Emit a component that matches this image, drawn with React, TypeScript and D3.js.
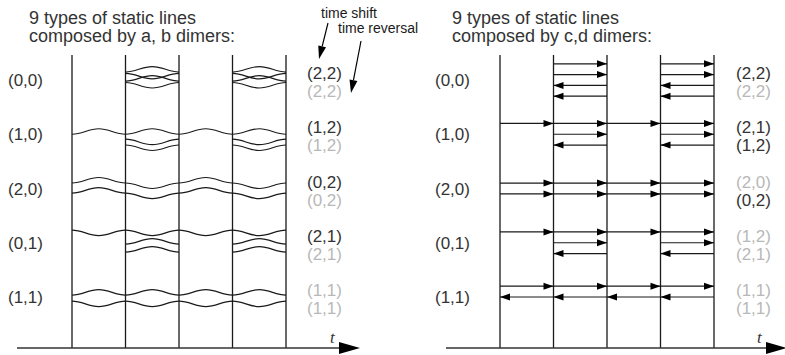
import React from 'react';
import * as d3 from 'd3';

// rows of both panels
const rowLabels = ['(0,0)', '(1,0)', '(2,0)', '(0,1)', '(1,1)'];

// labels on the right of each panel (upper, lower) and their shade
const abLabels = [['(2,2)', '(2,2)'], ['(1,2)', '(1,2)'], ['(0,2)', '(0,2)'], ['(2,1)', '(2,1)'], ['(1,1)', '(1,1)']];
const abShade = [['dark', 'light'], ['dark', 'light'], ['dark', 'light'], ['dark', 'light'], ['light', 'light']];
const cdLabels = [['(2,2)', '(2,2)'], ['(2,1)', '(1,2)'], ['(2,0)', '(0,2)'], ['(1,2)', '(2,1)'], ['(1,1)', '(1,1)']];
const cdShade = [['dark', 'light'], ['dark', 'dark'], ['light', 'dark'], ['light', 'light'], ['light', 'light']];

// a,b dimers: [level, per-column bend] u = arch up, d = arch down, . = none
const abStrands: [number, string][][] = [
  [[-1.45, '.u.u'], [-1.2, '.d.d'], [0.2, '.u.u'], [0.45, '.d.d']],
  [[0, 'uuuu'], [0.9, '.d.d'], [1.95, '.d.d']],
  [[-1, 'udud'], [0.85, 'udud']],
  [[-2.3, 'dddd'], [0.25, '.u.u'], [1.7, '.u.u']],
  [[-0.35, 'uuuu'], [0.75, 'dddd']],
];

// c,d dimers: [level, per-column direction] r = right, l = left, . = none
const cdStrands: [number, string][][] = [
  [[-1.5, '.r.r'], [-0.5, '.r.r'], [0.5, '.l.l'], [1.5, '.l.l']],
  [[-1, 'rrrr'], [0, '.r.r'], [1, '.l.l']],
  [[-0.5, 'rrrr'], [0.5, 'rrrr']],
  [[-1, 'rrrr'], [0, '.r.r'], [1, '.l.l']],
  [[-1, 'rrrr'], [0, 'llll']],
];

const ticks = [0, 1, 2, 3, 4];

const FONT = '"Liberation Sans", Arial, Helvetica, sans-serif';
const INK = '#1a1a1a';
const DARK = '#333';
const LIGHT = '#b8b8b8';

const W = 785;
const H = 355;
const axisY = 348;
const lineTop = 55;

const yRow = d3.scalePoint<string>().domain(rowLabels).range([80, 297]);
const waveUnit = d3.scaleLinear().domain([0, 1]).range([0, 5.5]);
const arrowUnit = d3.scaleLinear().domain([0, 1]).range([0, 10.8]);

function wavePath(x0: number, x1: number, y: number, bend: number) {
  const p = d3.path();
  const w = x1 - x0;
  const xm = (x0 + x1) / 2;
  const yp = y - bend * waveUnit(1);
  p.moveTo(x0, y);
  p.bezierCurveTo(x0 + w * 0.2, y, xm - w * 0.2, yp, xm, yp);
  p.bezierCurveTo(xm + w * 0.2, yp, x1 - w * 0.2, y, x1, y);
  return p.toString();
}

function head(tipX: number, y: number, dir: number, len = 10, half = 3.5) {
  const p = d3.path();
  p.moveTo(tipX, y);
  p.lineTo(tipX - dir * len, y - half);
  p.lineTo(tipX - dir * len, y + half);
  p.closePath();
  return p.toString();
}

function Axis({x0, x1}: {x0: number; x1: number}) {
  const p = d3.path();
  p.moveTo(x1, axisY);
  p.lineTo(x1 - 21, axisY - 6);
  p.lineTo(x1 - 21, axisY + 6);
  p.closePath();
  return (
    <g>
      <line x1={x0} x2={x1 - 18} y1={axisY} y2={axisY} stroke={DARK} strokeWidth={1.6} />
      <path d={p.toString()} fill="#000" />
      <text
        x={x1 - 30}
        y={axisY - 5}
        fontFamily='"Liberation Serif", "Times New Roman", serif'
        fontStyle="italic"
        fontSize={17}
        fill={DARK}
      >
        t
      </text>
    </g>
  );
}

function Labels({left, right, names, shades}: {left: number; right: number; names: string[][]; shades: string[][]}) {
  return (
    <g fontFamily={FONT} fontSize={17}>
      {rowLabels.map((r, i) => (
        <g key={r}>
          <text x={left} y={yRow(r)! + 6} fill={DARK}>
            {r}
          </text>
          {names[i].map((n, j) => (
            <text key={j} x={right} y={yRow(r)! + (j === 0 ? -7 : 11) + 6} fill={shades[i][j] === 'dark' ? DARK : LIGHT}>
              {n}
            </text>
          ))}
        </g>
      ))}
    </g>
  );
}

function Title({x, line2}: {x: number; line2: string}) {
  return (
    <text x={x} fontFamily={FONT} fontSize={18} fill={DARK}>
      <tspan x={x} y={24}>
        9 types of static lines
      </tspan>
      <tspan x={x} y={42}>
        {line2}
      </tspan>
    </text>
  );
}

function Arrow({x1, y1, x2, y2}: {x1: number; y1: number; x2: number; y2: number}) {
  const ang = Math.atan2(y2 - y1, x2 - x1);
  const len = 13;
  const half = 4;
  const bx = x2 - len * Math.cos(ang);
  const by = y2 - len * Math.sin(ang);
  const nx = -Math.sin(ang) * half;
  const ny = Math.cos(ang) * half;
  return (
    <g>
      <line x1={x1} y1={y1} x2={bx} y2={by} stroke="#000" strokeWidth={1.2} />
      <path d={`M${x2},${y2}L${bx + nx},${by + ny}L${bx - nx},${by - ny}Z`} fill="#000" />
    </g>
  );
}

export default function App() {
  const xAB = d3.scalePoint<number>().domain(ticks).range([72, 286]);
  const xCD = d3.scalePoint<number>().domain(ticks).range([500, 714]);

  return (
    <svg width={W} height={H} style={{position: 'absolute', left: 0, top: 0, background: '#fff'}}>
      <Title x={29} line2="composed by a, b dimers:" />
      <Title x={452} line2="composed by c,d dimers:" />

      <text x={321} y={18} fontFamily={FONT} fontSize={14} fill={INK}>
        time shift
      </text>
      <text x={338} y={33} fontFamily={FONT} fontSize={14} fill={INK}>
        time reversal
      </text>
      <Arrow x1={328} y1={23} x2={319} y2={59} />
      <Arrow x1={361} y1={41} x2={351} y2={93} />

      {/* a,b panel */}
      {ticks.map(t => (
        <line key={t} x1={xAB(t)} x2={xAB(t)} y1={lineTop} y2={axisY} stroke={INK} strokeWidth={1.3} />
      ))}
      {abStrands.map((row, i) =>
        row.map(([lv, bends], k) =>
          bends.split('').map((b, c) =>
            b === '.' ? null : (
              <path
                key={`${i}-${k}-${c}`}
                d={wavePath(xAB(c)!, xAB(c + 1)!, yRow(rowLabels[i])! + waveUnit(lv), b === 'u' ? 1 : -1)}
                fill="none"
                stroke={INK}
                strokeWidth={1.2}
              />
            )
          )
        )
      )}
      <Axis x0={17} x1={360} />
      <Labels left={8} right={307} names={abLabels} shades={abShade} />

      {/* c,d panel */}
      {ticks.map(t => (
        <line key={t} x1={xCD(t)} x2={xCD(t)} y1={lineTop} y2={axisY} stroke={INK} strokeWidth={1.3} />
      ))}
      {cdStrands.map((row, i) =>
        row.map(([lv, dirs], k) =>
          dirs.split('').map((d, c) => {
            if (d === '.') return null;
            const y = yRow(rowLabels[i])! + arrowUnit(lv);
            const xa = xCD(c)!;
            const xb = xCD(c + 1)!;
            const dir = d === 'r' ? 1 : -1;
            const tip = dir === 1 ? xb : xa;
            return (
              <g key={`${i}-${k}-${c}`}>
                <line x1={xa} x2={xb} y1={y} y2={y} stroke={INK} strokeWidth={1.2} />
                <path d={head(tip, y, dir)} fill="#000" />
              </g>
            );
          })
        )
      )}
      <Axis x0={446} x1={787} />
      <Labels left={435} right={736} names={cdLabels} shades={cdShade} />
    </svg>
  );
}
